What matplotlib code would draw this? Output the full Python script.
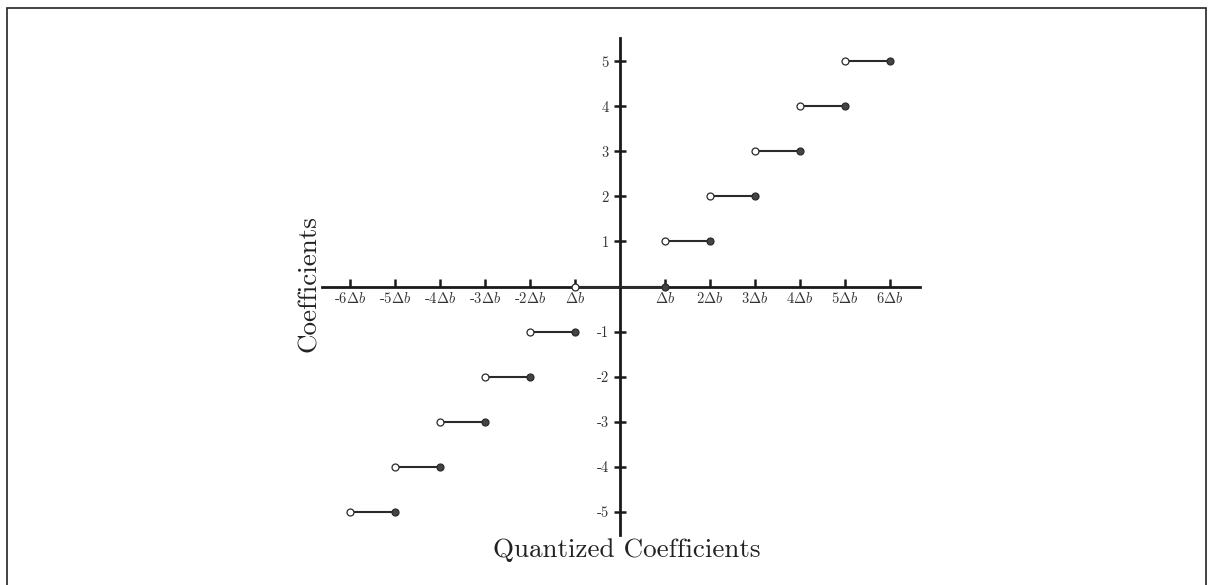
import matplotlib
matplotlib.use("Agg")
import matplotlib.pyplot as plt
from matplotlib.patches import Rectangle

plt.rcParams["font.family"] = ["cmr10", "DejaVu Serif"]
plt.rcParams["mathtext.fontset"] = "cm"
plt.rcParams["axes.unicode_minus"] = False

# Quantizer staircase: each level holds on the interval (start, end]
levels = [-5, -4, -3, -2, -1, 0, 1, 2, 3, 4, 5]
starts = [-6, -5, -4, -3, -2, -1, 1, 2, 3, 4, 5]
ends = [-5, -4, -3, -2, -1, 1, 2, 3, 4, 5, 6]

x_ticks = [-6, -5, -4, -3, -2, -1, 1, 2, 3, 4, 5, 6]
x_labels = ["-6$\\Delta b$", "-5$\\Delta b$", "-4$\\Delta b$", "-3$\\Delta b$",
            "-2$\\Delta b$", "$\\Delta b$", "$\\Delta b$", "2$\\Delta b$",
            "3$\\Delta b$", "4$\\Delta b$", "5$\\Delta b$", "6$\\Delta b$"]
y_ticks = [-5, -4, -3, -2, -1, 1, 2, 3, 4, 5]
y_labels = ["-5", "-4", "-3", "-2", "-1", "1", "2", "3", "4", "5"]

fig = plt.figure(figsize=(12.08, 5.85), dpi=100)
ax = fig.add_axes([322 / 1208, 50 / 585, 598 / 1208, 497 / 585])
ax.set_xlim(-6.62, 6.67)
ax.set_ylim(-5.52, 5.52)

for s in ("top", "right"):
    ax.spines[s].set_visible(False)
for s in ("left", "bottom"):
    ax.spines[s].set_position("zero")
    ax.spines[s].set_linewidth(2.0)
    ax.spines[s].set_color("#1a1a1a")

ax.set_xticks(x_ticks)
ax.set_xticklabels(x_labels, fontsize=10.5, color="#333333")
ax.set_yticks(y_ticks)
ax.set_yticklabels(y_labels, fontsize=10.5, color="#333333")
ax.tick_params(axis="x", direction="in", length=6, width=1.8, color="#1a1a1a", pad=3)
ax.tick_params(axis="y", direction="inout", length=8, width=1.8, color="#1a1a1a", pad=4)

for lv, a, b in zip(levels, starts, ends):
    ax.plot([a, b], [lv, lv], color="#2a2a2a", lw=1.5, zorder=3, clip_on=False)
    ax.plot(a, lv, marker="o", ms=5, mfc="white", mec="#2a2a2a", mew=0.9,
            zorder=4, clip_on=False)
    ax.plot(b, lv, marker="o", ms=5, mfc="#444444", mec="#2a2a2a", mew=0.9,
            zorder=4, clip_on=False)

fig.text(627 / 1208, 1 - 550 / 585, "Quantized Coefficients", fontsize=19.5,
         ha="center", va="center", color="#222222")
fig.text(309 / 1208, 1 - 284 / 585, "Coefficients", fontsize=19.5, rotation=90,
         ha="center", va="center", color="#222222")

fig.patches.append(Rectangle((7 / 1208, -0.05), 1199 / 1208, 1.05 - 8 / 585,
                             transform=fig.transFigure, fill=False,
                             edgecolor="#222222", lw=1.2))

fig.savefig("out.png", dpi=100)
